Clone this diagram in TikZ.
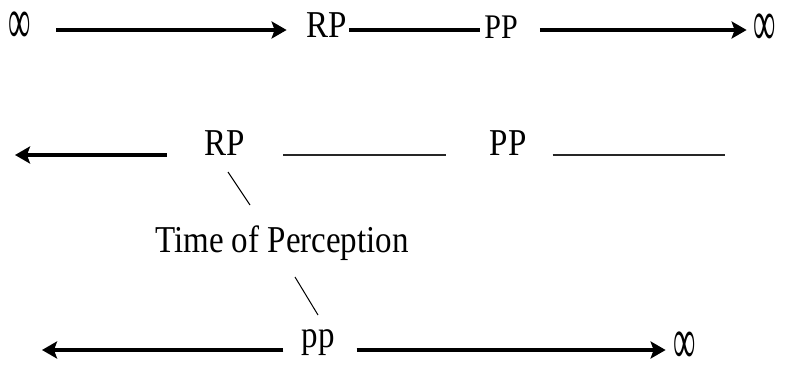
\documentclass[tikz,border=0pt]{standalone}
\usepackage{fontspec}
\setmainfont{Liberation Serif}
\usetikzlibrary{arrows.meta}
\newcommand\tallt[1]{\scalebox{1}[1.15]{#1}}
\newcommand\infsym{\scalebox{0.95}[2.0]{∞}}
\tikzset{
  lbl/.style={inner sep=0pt, font=\fontsize{33}{36}\selectfont},
  arr/.style={line width=3.4pt, -{Stealth[length=15pt,width=17pt,inset=3pt]}},
  thick line/.style={line width=3.4pt},
  thin line/.style={line width=2.2pt, draw=black!85},
  tick/.style={line width=1pt},
}
\begin{document}
\begin{tikzpicture}[x=1pt,y=1pt]
\useasboundingbox (0,0) rectangle (791,364);
% row 1
\node[lbl] (inf1) at (20,336) {\infsym};
\node[lbl] (RP1) at (327,339) {\tallt{RP}};
\node[lbl, font=\fontsize{30}{34}\selectfont] (PP1) at (501,337) {\tallt{PP}};
\node[lbl] (inf2) at (765,334) {\infsym};
\draw[arr] ([xshift=25pt]inf1.east |- 0,334) -- ([xshift=-20pt]RP1.west |- 0,334);
\draw[thick line] ([xshift=2pt]RP1.east |- 0,334) -- ([xshift=-4pt]PP1.west |- 0,334);
\draw[arr] ([xshift=22pt]PP1.east |- 0,334) -- ([xshift=-7pt]inf2.west |- 0,334);
% row 2
\coordinate (L2) at (15,209);
\coordinate (R2) at (725,209);
\node[lbl] (RP2) at (225,221) {\tallt{RP}};
\node[lbl] (PP2) at (508,221) {\tallt{PP}};
\draw[arr] ([xshift=-38pt]RP2.west |- 0,209) -- (L2);
\draw[thin line] ([xshift=38pt]RP2.east |- 0,209) -- ([xshift=-43pt]PP2.west |- 0,209);
\draw[thin line] ([xshift=26pt]PP2.east |- 0,209) -- (R2);
% middle label
\node[lbl] (TP) at (282,121) {\tallt{Time of Perception}};
\node[lbl] (pp) at (318,21) {\tallt{pp}};
\draw[tick] (228,192) -- (250,159);
\draw[tick] (295,87) -- (318,49);
% row 3
\coordinate (L3) at (42,14);
\node[lbl] (inf3) at (685,16) {\infsym};
\draw[arr] ([xshift=-18pt]pp.west |- 0,14) -- (L3);
\draw[arr] ([xshift=22pt]pp.east |- 0,14) -- ([xshift=-8pt]inf3.west |- 0,14);
\end{tikzpicture}
\end{document}
